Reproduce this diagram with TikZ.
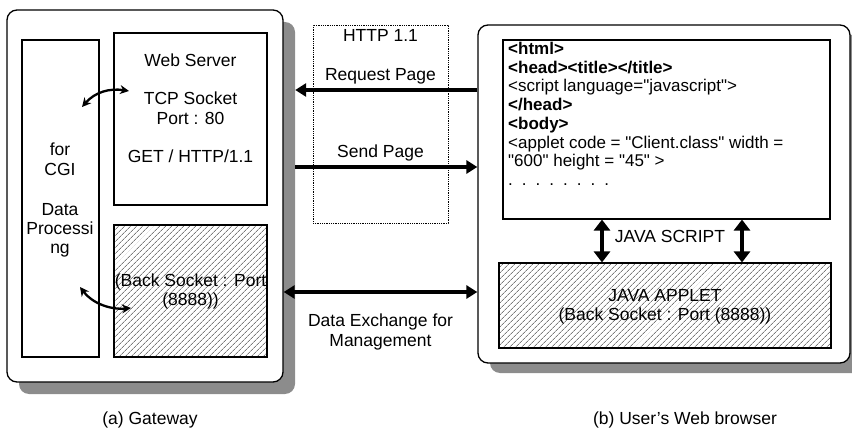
\documentclass[tikz,border=0pt]{standalone}
\usepackage{fontspec}
\setmainfont{Liberation Sans}
\usetikzlibrary{patterns.meta,arrows.meta}
\newcommand{\qd}{\textquotedbl}
\begin{document}
\begin{tikzpicture}[x=1pt,y=-1pt,
  font=\fontsize{17.5}{19}\selectfont,
  outerbox/.style={draw, line width=1.3pt, fill=white, rounded corners=10pt, minimum width=#1, inner sep=0pt},
  shadowbox/.style={fill=black!45, rounded corners=10pt, inner sep=0pt},
  innerbox/.style={draw, line width=1.1pt, fill=white, inner sep=0pt},
  hatchbox/.style={draw, line width=1.1pt, pattern={Lines[angle=45, distance=4pt, line width=0.5pt]}, pattern color=black!80, inner sep=0pt},
  lbl/.style={inner sep=0pt, anchor=center, text height=12pt, text depth=3pt},
  bigarrow/.style={line width=3.2pt, -{Triangle[length=11pt,width=13pt]}},
  bigdarrow/.style={line width=3.2pt, {Triangle[length=11pt,width=13pt]}-{Triangle[length=11pt,width=13pt]}},
  vdarrow/.style={line width=4pt, {Triangle[length=11pt,width=16pt]}-{Triangle[length=11pt,width=16pt]}},
  curvarrow/.style={line width=2.3pt, {Stealth[length=9pt,width=9pt]}-{Stealth[length=9pt,width=9pt]}}
]
\useasboundingbox (0,0) rectangle (852,433);

% Gateway
\node[shadowbox, minimum width=276pt, minimum height=372pt] (gwshadow) at (157,208) {};
\node[outerbox=276pt, minimum height=372pt] (gw) at (145,196) {};
\node[innerbox, minimum width=77pt, minimum height=317pt] (cgi) at (60.5,198.5) {};
\node[innerbox, minimum width=153pt, minimum height=172pt] (web) at (190.5,119) {};
\node[hatchbox, minimum width=153pt, minimum height=132pt] (back) at (190.5,291) {};

\node[lbl] (t1) at (190.5,62) {Web Server};
\node[lbl] (t2) at (190.5,100) {TCP Socket};
\node[lbl] (t3) at (190.5,120) {Port : 80};
\node[lbl] (t4) at (190.5,158) {GET / HTTP/1.1};

\node[lbl] (c1) at (60,151) {for};
\node[lbl] (c2) at (60,171) {CGI};
\node[lbl] (c3) at (60,211) {Data};
\node[lbl] (c4) at (60,230) {Processi};
\node[lbl] (c5) at (60,249) {ng};

\node[lbl] (b1) at (190.5,282) {(Back Socket : Port};
\node[lbl] (b2) at (190.5,301) {(8888))};

\coordinate (ca1) at (82,107);
\coordinate (ca2) at (129,91);
\coordinate (cb1) at (80,287);
\coordinate (cb2) at (131,308);
\draw[curvarrow] (ca1) .. controls (95,92) and (110,88) .. (ca2);
\draw[curvarrow] (cb1) .. controls (92,303) and (110,310) .. (cb2);

% HTTP box
\node[draw, densely dotted, line width=0.8pt, minimum width=135pt, minimum height=198pt, inner sep=0pt] (http) at (380.5,124) {};
\node[lbl] (h1) at (380.5,37) {HTTP 1.1};
\node[lbl] (h2) at (380.5,76) {Request Page};
\node[lbl] (h3) at (380.5,153) {Send Page};
\node[lbl] (h4) at (380.5,322) {Data Exchange for};
\node[lbl] (h5) at (380.5,342) {Management};

% Browser
\node[shadowbox, minimum width=372pt, minimum height=338pt] (brshadow) at (676,204) {};
\node[outerbox=372pt, minimum height=338pt] (br) at (664,194) {};
\node[innerbox, minimum width=327pt, minimum height=179pt] (html) at (666.5,129.5) {};
\node[hatchbox, minimum width=332pt, minimum height=85pt] (applet) at (665,305.5) {};

\node[inner sep=0pt, anchor=north west, align=left, font=\fontsize{17}{18.7}\selectfont] (code) at (508,42) {%
\textbf{<html>}\\
\textbf{<head><title></title>}\\
<script language=\qd javascript\qd>\\
\textbf{</head>}\\
\textbf{<body>}\\
<applet code = \qd Client.class\qd\ width =\\
\qd 600\qd\ height = \qd 45\qd\ >\\
.\hspace{9pt}.\hspace{9pt}.\hspace{9pt}.\hspace{9pt}.\hspace{9pt}.\hspace{9pt}.\hspace{9pt}.};

\node[lbl] (js) at (670,238) {JAVA SCRIPT};
\node[lbl] (ap1) at (665,297) {JAVA APPLET};
\node[lbl] (ap2) at (665,316) {(Back Socket : Port (8888))};

\draw[vdarrow] (html.south -| 602,0) -- (applet.north -| 602,0);
\draw[vdarrow] (html.south -| 742,0) -- (applet.north -| 742,0);

% connectors between gateway and browser
\draw[bigarrow] (br.west |- 0,90) -- (gwshadow.east |- 0,90);
\draw[bigarrow] (gwshadow.east |- 0,167) -- (br.west |- 0,167);
\draw[bigdarrow] (gw.east |- 0,292) -- (br.west |- 0,292);

% captions
\node[lbl] (capa) at (150,420) {(a) Gateway};
\node[lbl] (capb) at (685,420) {(b) User's Web browser};
\end{tikzpicture}
\end{document}
